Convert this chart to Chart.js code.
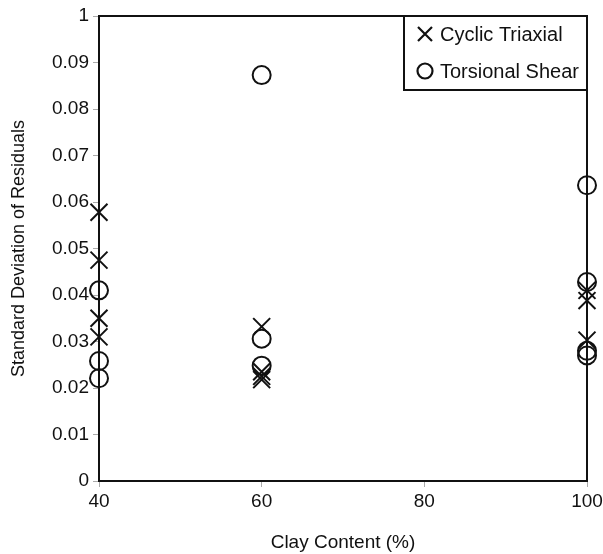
<!DOCTYPE html>
<html>
<head>
<meta charset="utf-8">
<script src="https://cdn.jsdelivr.net/npm/chart.js@4"></script>
<style>
  html, body { margin: 0; padding: 0; background: #fff; }
  #wrap { width: 603px; height: 554px; }
</style>
</head>
<body>
<div id="wrap"><canvas id="chart" width="603" height="554"></canvas></div>
<script>
// Residual scatter: standard deviation vs clay content

const FONT = '"Liberation Sans", Arial, sans-serif';

// Cyclic triaxial results
const triaxialClay = [40, 40, 40, 40, 60, 60, 60, 60, 100, 100, 100];
const triaxialStd = [0.0578, 0.0475, 0.035, 0.031, 0.0332, 0.0235, 0.0225, 0.0218, 0.041, 0.0388, 0.0303];

// Torsional shear results
const torsionalClay = [40, 40, 40, 60, 60, 60, 100, 100, 100, 100];
const torsionalStd = [0.041, 0.0258, 0.0221, 0.0873, 0.0306, 0.0248, 0.0636, 0.0428, 0.028, 0.027];

// Axis ticks
const xTicks = [40, 60, 80, 100];
const yTickLabels = ['0', '0.01', '0.02', '0.03', '0.04', '0.05', '0.06', '0.07', '0.08', '0.09', '1'];

const legendItems = [
  { label: 'Cyclic Triaxial', style: 'crossRot' },
  { label: 'Torsional Shear', style: 'circle' }
];

function toPoints(xs, ys) {
  return xs.map((x, i) => ({ x: x, y: ys[i] }));
}

// Frame around plot area plus the boxed legend in the top-right corner
const framePlugin = {
  id: 'frame',
  afterDraw(chart) {
    const ctx = chart.ctx;
    const a = chart.chartArea;
    ctx.save();
    ctx.strokeStyle = '#111';
    ctx.lineWidth = 2;
    ctx.strokeRect(a.left, a.top, a.right - a.left, a.bottom - a.top);

    // legend box
    const bw = 183, bh = 74;
    const bx = a.right - bw, by = a.top;
    ctx.fillStyle = '#fff';
    ctx.fillRect(bx, by, bw, bh);
    ctx.strokeRect(bx, by, bw, bh);

    ctx.font = '20px ' + FONT;
    ctx.textBaseline = 'middle';
    ctx.textAlign = 'left';
    legendItems.forEach((item, i) => {
      const cy = by + 18 + i * 37;
      const mx = bx + 21;
      ctx.strokeStyle = '#111';
      ctx.lineWidth = 2.2;
      ctx.beginPath();
      if (item.style === 'crossRot') {
        const r = 7;
        ctx.moveTo(mx - r, cy - r); ctx.lineTo(mx + r, cy + r);
        ctx.moveTo(mx + r, cy - r); ctx.lineTo(mx - r, cy + r);
      } else {
        ctx.arc(mx, cy, 7.5, 0, Math.PI * 2);
      }
      ctx.stroke();
      ctx.fillStyle = '#111';
      ctx.fillText(item.label, mx + 15, cy + 1);
    });
    ctx.restore();
  }
};

const ctx = document.getElementById('chart').getContext('2d');

new Chart(ctx, {
  type: 'scatter',
  data: {
    datasets: [
      {
        label: legendItems[0].label,
        data: toPoints(triaxialClay, triaxialStd),
        pointStyle: 'crossRot',
        pointRadius: 12,
        pointBorderWidth: 2,
        borderColor: '#111',
        backgroundColor: 'rgba(0,0,0,0)',
        clip: false
      },
      {
        label: legendItems[1].label,
        data: toPoints(torsionalClay, torsionalStd),
        pointStyle: 'circle',
        pointRadius: 9,
        pointBorderWidth: 2,
        borderColor: '#111',
        backgroundColor: 'rgba(0,0,0,0)',
        clip: false
      }
    ]
  },
  options: {
    responsive: false,
    animation: false,
    layout: { padding: { left: 0, right: 16, top: 16, bottom: 0 } },
    plugins: {
      legend: { display: false },
      tooltip: { enabled: false }
    },
    scales: {
      x: {
        type: 'linear',
        min: 40,
        max: 100,
        afterBuildTicks(scale) {
          scale.ticks = xTicks.map(v => ({ value: v }));
        },
        afterFit(scale) {
          scale.height = 73;
          scale.paddingLeft = 0;
          scale.paddingRight = 0;
        },
        grid: { drawOnChartArea: false, drawTicks: true, tickLength: 6, tickColor: '#aaa' },
        border: { display: false },
        ticks: { color: '#111', font: { family: FONT, size: 19 }, padding: 3, maxRotation: 0 },
        title: {
          display: true,
          text: 'Clay Content (%)',
          color: '#111',
          font: { family: FONT, size: 19 },
          padding: { top: 7, bottom: 0 }
        }
      },
      y: {
        type: 'linear',
        min: 0,
        max: 0.1,
        afterBuildTicks(scale) {
          scale.ticks = yTickLabels.map((t, i) => ({ value: i / 100 }));
        },
        afterFit(scale) {
          scale.width = 99;
          scale.paddingTop = 0;
          scale.paddingBottom = 0;
        },
        grid: { drawOnChartArea: false, drawTicks: true, tickLength: 6, tickColor: '#aaa' },
        border: { display: false },
        ticks: {
          color: '#111',
          font: { family: FONT, size: 19 },
          padding: 4,
          callback: (v, i) => yTickLabels[i]
        },
        title: {
          display: true,
          text: 'Standard Deviation of Residuals',
          color: '#111',
          font: { family: FONT, size: 18 },
          padding: { top: 8, bottom: 0 }
        }
      }
    }
  },
  plugins: [framePlugin]
});
</script>
</body>
</html>
